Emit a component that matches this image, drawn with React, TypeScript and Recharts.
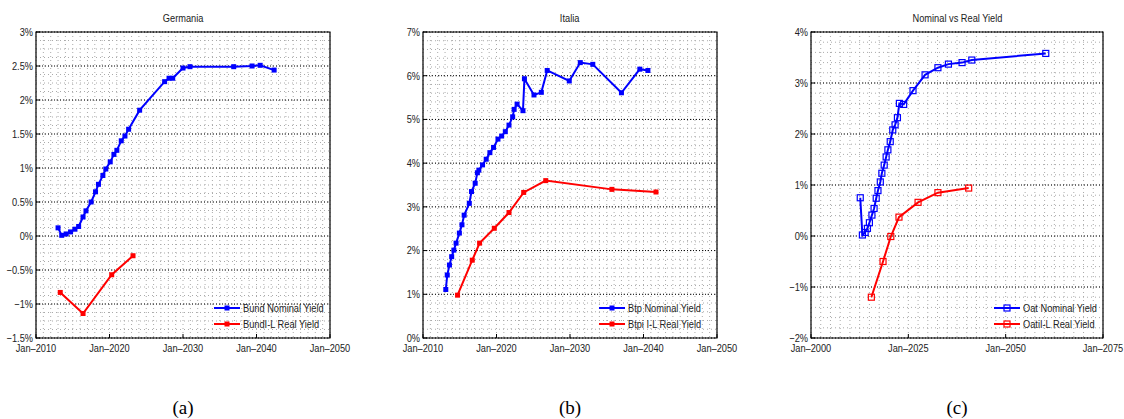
import React from 'react';
import { LineChart, Line, XAxis, YAxis, CartesianGrid, ReferenceArea } from 'recharts';

// ---------- Data ----------
const GER_NOM_YEARS = [2013.0, 2013.5, 2014.1, 2014.7, 2015.3, 2015.8, 2016.4, 2016.8, 2017.5, 2018.1, 2018.5, 2019.1, 2019.5, 2020.1, 2020.6, 2021.0, 2021.6, 2022.1, 2022.6, 2024.1, 2027.5, 2028.1, 2028.6, 2030.0, 2030.95, 2036.9, 2039.4, 2040.5, 2042.4];
const GER_NOM_YIELD = [0.12, 0.01, 0.03, 0.06, 0.10, 0.14, 0.28, 0.37, 0.50, 0.65, 0.76, 0.89, 0.985, 1.09, 1.20, 1.26, 1.40, 1.47, 1.57, 1.85, 2.27, 2.32, 2.32, 2.47, 2.49, 2.49, 2.50, 2.51, 2.44];
const GER_REAL_YEARS = [2013.3, 2016.4, 2020.3, 2023.2];
const GER_REAL_YIELD = [-0.83, -1.14, -0.57, -0.29];

const ITA_NOM_YEARS = [2013.1, 2013.3, 2013.6, 2013.9, 2014.2, 2014.5, 2014.95, 2015.3, 2015.6, 2016.3, 2016.6, 2017.1, 2017.4, 2017.6, 2018.1, 2018.6, 2019.1, 2019.6, 2020.2, 2020.7, 2021.2, 2021.7, 2022.2, 2022.4, 2022.8, 2023.6, 2023.8, 2025.1, 2026.1, 2026.9, 2029.9, 2031.4, 2033.1, 2037.0, 2039.5, 2040.6];
const ITA_NOM_YIELD = [1.11, 1.44, 1.67, 1.86, 2.01, 2.17, 2.40, 2.59, 2.81, 3.08, 3.35, 3.54, 3.78, 3.84, 3.96, 4.09, 4.24, 4.36, 4.55, 4.62, 4.72, 4.87, 5.06, 5.23, 5.35, 5.20, 5.93, 5.56, 5.62, 6.12, 5.88, 6.30, 6.26, 5.61, 6.15, 6.12];
const ITA_REAL_YEARS = [2014.7, 2016.7, 2017.7, 2019.7, 2021.7, 2023.7, 2026.7, 2035.7, 2041.7];
const ITA_REAL_YIELD = [0.98, 1.78, 2.17, 2.51, 2.87, 3.33, 3.60, 3.40, 3.34];

const FRA_NOM_YEARS = [2012.65, 2013.2, 2013.9, 2014.5, 2015.0, 2015.65, 2016.2, 2016.75, 2017.2, 2017.8, 2018.2, 2018.8, 2019.3, 2019.75, 2020.35, 2021.0, 2021.6, 2022.2, 2022.7, 2023.8, 2026.2, 2029.3, 2032.6, 2035.3, 2038.8, 2041.3, 2060.3];
const FRA_NOM_YIELD = [0.75, 0.02, 0.07, 0.15, 0.26, 0.41, 0.54, 0.74, 0.89, 1.06, 1.23, 1.39, 1.55, 1.69, 1.85, 2.08, 2.18, 2.32, 2.60, 2.58, 2.85, 3.16, 3.30, 3.37, 3.40, 3.45, 3.58];
const FRA_REAL_YEARS = [2015.5, 2018.5, 2020.5, 2022.6, 2027.5, 2032.6, 2040.5];
const FRA_REAL_YIELD = [-1.20, -0.50, -0.01, 0.37, 0.66, 0.85, 0.94];

// Axis ticks
const GER_X_TICKS = [2010, 2020, 2030, 2040, 2050];
const GER_Y_TICKS = [-1.5, -1, -0.5, 0, 0.5, 1, 1.5, 2, 2.5, 3];
const ITA_X_TICKS = [2010, 2020, 2030, 2040, 2050];
const ITA_Y_TICKS = [0, 1, 2, 3, 4, 5, 6, 7];
const FRA_X_TICKS = [2000, 2025, 2050, 2075];
const FRA_Y_TICKS = [-2, -1, 0, 1, 2, 3, 4];

const TITLES = ['Germania', 'Italia', 'Nominal vs Real Yield'];
const CAPTIONS = ['(a)', '(b)', '(c)'];
const LEGENDS = [
  ['Bund Nominal Yield', 'BundI-L Real Yield'],
  ['Btp Nominal Yield', 'Btpi I-L Real Yield'],
  ['Oat Nominal Yield', 'OatiI-L Real Yield'],
];

// grid subdivision helper (minor gridlines)
const steps = (a: number, b: number, s: number) => {
  const out: number[] = [];
  const n = Math.round((b - a) / s);
  for (let i = 0; i <= n; i++) out.push(+(a + i * s).toFixed(4));
  return out;
};

const zip = (xs: number[], ys: number[]) => xs.map((x, i) => ({ x, y: ys[i] }));

const FONT = "'Liberation Sans', Arial, sans-serif";
const SQUEEZE = 0.84;
const BLUE = '#0000ff';
const RED = '#ff0000';

const fmtX = (v: number) => `Jan\u2013${v}`;
const fmtY = (v: number) => `${v < 0 ? '\u2212' : ''}${Math.abs(v)}%`;

function XTick(props: any) {
  const { x, y, payload } = props;
  return (
    <text transform={`translate(${x},${y}) scale(${SQUEEZE},1)`} x={0} y={0} dy="0.71em" textAnchor="middle"
      fontSize={11} fill="#222" fontFamily={FONT}>
      {fmtX(payload.value)}
    </text>
  );
}

function YTick(props: any) {
  const { x, y, payload } = props;
  return (
    <text transform={`translate(${x},${y}) scale(${SQUEEZE},1)`} x={0} y={0} dy="0.355em" textAnchor="end"
      fontSize={11} fill="#222" fontFamily={FONT}>
      {fmtY(payload.value)}
    </text>
  );
}

function makeDot(color: string, hollow: boolean) {
  return (props: any) => {
    const { cx, cy, index } = props;
    if (cx == null || cy == null) return <g key={`d${index}`} />;
    return hollow ? (
      <rect key={`d${index}`} x={cx - 3} y={cy - 3} width={6} height={6} fill="none" stroke={color} strokeWidth={1.2} />
    ) : (
      <rect key={`d${index}`} x={cx - 2.5} y={cy - 2.5} width={5} height={5} fill={color} stroke="none" />
    );
  };
}

type PanelProps = {
  left: number;
  width: number;
  yAxisW: number;
  marginRight: number;
  xTicks: number[];
  yTicks: number[];
  xMinor: number[];
  yMinor: number[];
  nominal: { x: number; y: number }[];
  real: { x: number; y: number }[];
  hollow: boolean;
  idx: number;
  legendLeft: number;
};

function Panel(p: PanelProps) {
  const xDomain: [number, number] = [p.xTicks[0], p.xTicks[p.xTicks.length - 1]];
  const yDomain: [number, number] = [p.yTicks[0], p.yTicks[p.yTicks.length - 1]];
  const plotLeft = p.yAxisW;
  const plotRight = p.width - p.marginRight;
  return (
    <div style={{ position: 'absolute', left: p.left, top: 0, width: p.width, height: 419 }}>
      <div
        style={{
          position: 'absolute', left: plotLeft, width: plotRight - plotLeft, top: 11, textAlign: 'center',
          fontFamily: FONT, fontSize: 11, lineHeight: '14px', color: '#222',
        }}
      >
        <span style={{ display: 'inline-block', transform: `scaleX(${SQUEEZE})`, transformOrigin: 'center' }}>{TITLES[p.idx]}</span>
      </div>
      <LineChart width={p.width} height={419} margin={{ top: 32, right: p.marginRight, bottom: 61, left: 0 }}>
        <CartesianGrid horizontalValues={p.yMinor} verticalValues={p.xMinor} stroke="#aaaaaa" strokeDasharray="1 3" />
        <CartesianGrid horizontalValues={p.yTicks} vertical={false} stroke="#000" strokeDasharray="1 2" />
        <XAxis
          type="number" dataKey="x" domain={xDomain} ticks={p.xTicks} interval={0}
          height={20} tickSize={-4} tickMargin={10} axisLine={false} stroke="#000" tick={<XTick />} allowDataOverflow
        />
        <YAxis
          type="number" domain={yDomain} ticks={p.yTicks} interval={0}
          width={p.yAxisW} tickSize={-4} tickMargin={7} axisLine={false} stroke="#000" tick={<YTick />} allowDataOverflow
        />
        <XAxis xAxisId="top" orientation="top" type="number" domain={xDomain} ticks={p.xTicks} interval={0}
          height={0} tickSize={-4} tick={false} axisLine={false} stroke="#000" />
        <YAxis yAxisId="right" orientation="right" type="number" domain={yDomain} ticks={p.yTicks} interval={0}
          width={0} tickSize={-4} tick={false} axisLine={false} stroke="#000" />
        <ReferenceArea x1={xDomain[0]} x2={xDomain[1]} y1={yDomain[0]} y2={yDomain[1]} fill="none" fillOpacity={0} stroke="#000" strokeWidth={1.2} />
        <Line data={p.nominal} dataKey="y" type="linear" stroke={BLUE} strokeWidth={2} dot={makeDot(BLUE, p.hollow)} activeDot={false} isAnimationActive={false} />
        <Line data={p.real} dataKey="y" type="linear" stroke={RED} strokeWidth={2} dot={makeDot(RED, p.hollow)} activeDot={false} isAnimationActive={false} />
      </LineChart>
      {[BLUE, RED].map((c, i) => (
        <div key={c} style={{ position: 'absolute', left: p.legendLeft, top: 301 + i * 16, height: 14, display: 'flex', alignItems: 'center' }}>
          <svg width={28} height={14}>
            <line x1={0} y1={7} x2={26} y2={7} stroke={c} strokeWidth={2} />
            {p.hollow ? (
              <rect x={10} y={4} width={6} height={6} fill="none" stroke={c} strokeWidth={1.2} />
            ) : (
              <rect x={10.5} y={4.5} width={5} height={5} fill={c} />
            )}
          </svg>
          <span style={{ fontFamily: FONT, fontSize: 11, color: '#222', whiteSpace: 'nowrap', marginLeft: 1, display: 'inline-block', transform: `scaleX(${SQUEEZE})`, transformOrigin: 'left center' }}>{LEGENDS[p.idx][i]}</span>
        </div>
      ))}
      <div
        style={{
          position: 'absolute', left: plotLeft, width: plotRight - plotLeft, top: 396, textAlign: 'center',
          fontFamily: "'Liberation Serif', 'DejaVu Serif', serif", fontSize: 19, lineHeight: '24px', color: '#000',
        }}
      >
        {CAPTIONS[p.idx]}
      </div>
    </div>
  );
}

export default function App() {
  return (
    <div style={{ position: 'absolute', left: 0, top: 0, width: 1124, height: 419, background: '#fff', overflow: 'hidden' }}>
      <Panel
        idx={0} left={0} width={370} yAxisW={36} marginRight={40}
        xTicks={GER_X_TICKS} yTicks={GER_Y_TICKS}
        xMinor={steps(2010, 2050, 1)} yMinor={steps(-1.5, 3, 0.125)}
        nominal={zip(GER_NOM_YEARS, GER_NOM_YIELD)} real={zip(GER_REAL_YEARS, GER_REAL_YIELD)}
        hollow={false} legendLeft={214}
      />
      <Panel
        idx={1} left={380} width={370} yAxisW={43} marginRight={33}
        xTicks={ITA_X_TICKS} yTicks={ITA_Y_TICKS}
        xMinor={steps(2010, 2050, 1)} yMinor={steps(0, 7, 0.2)}
        nominal={zip(ITA_NOM_YEARS, ITA_NOM_YIELD)} real={zip(ITA_REAL_YEARS, ITA_REAL_YIELD)}
        hollow={false} legendLeft={219}
      />
      <Panel
        idx={2} left={760} width={384} yAxisW={51} marginRight={41}
        xTicks={FRA_X_TICKS} yTicks={FRA_Y_TICKS}
        xMinor={steps(2000, 2075, 2.5)} yMinor={steps(-2, 4, 0.2)}
        nominal={zip(FRA_NOM_YEARS, FRA_NOM_YIELD)} real={zip(FRA_REAL_YEARS, FRA_REAL_YIELD)}
        hollow={true} legendLeft={234}
      />
    </div>
  );
}
